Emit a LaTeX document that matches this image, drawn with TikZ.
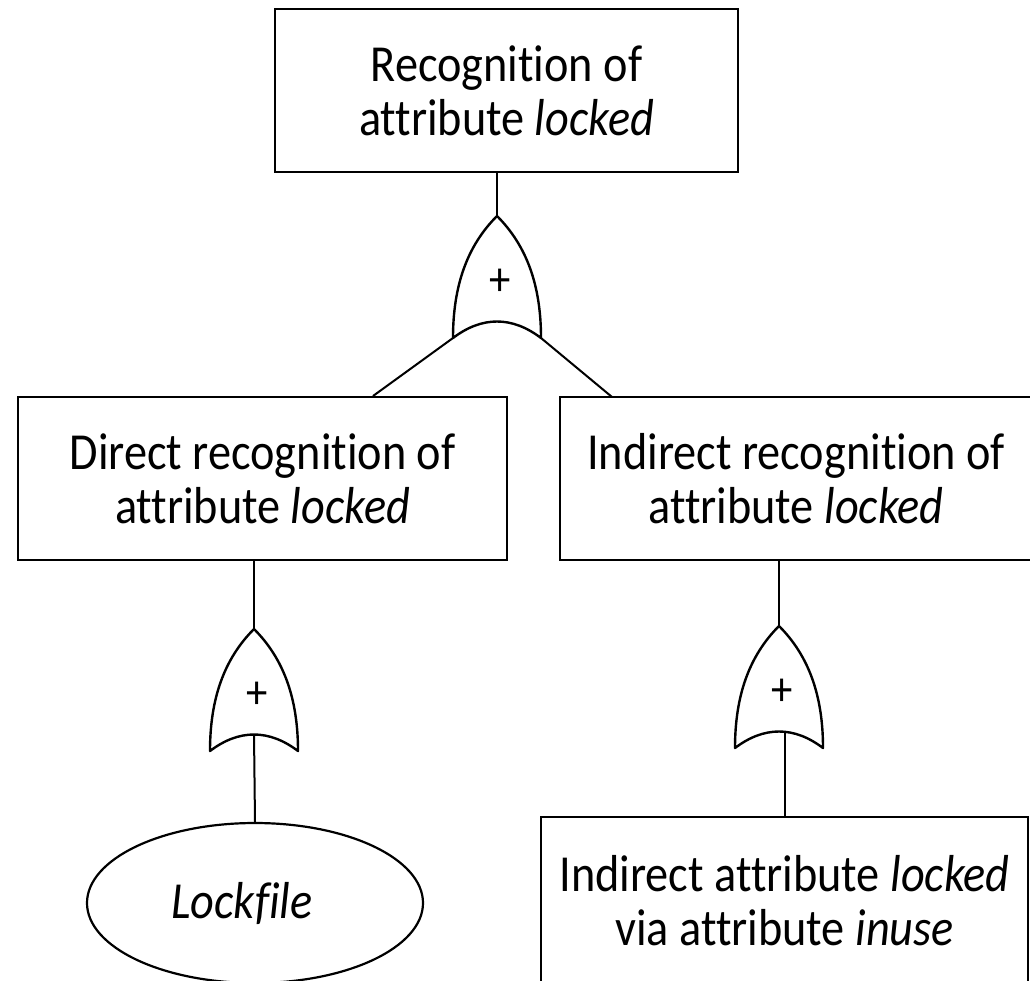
\documentclass[tikz,border=0pt]{standalone}
\usepackage{fontspec}
\setmainfont{Carlito}[Ligatures=NoCommon, FakeStretch=0.89]
\usetikzlibrary{shapes.geometric}
\tikzset{
  txtfont/.style={font=\fontsize{52}{54}\selectfont},
  boxnode/.style={draw, line width=2.2pt, rectangle, inner sep=0pt, align=center, txtfont},
  ovalnode/.style={draw, line width=2.2pt, ellipse, inner sep=0pt},
  wire/.style={line width=2pt},
  gateline/.style={line width=2.4pt, line join=round},
  plusnode/.style={inner sep=0pt, font=\fontsize{48}{54}\selectfont},
  orgate/.pic={
    \coordinate (-apex) at (0,0);
    \coordinate (-bl) at (-44,122);
    \coordinate (-br) at (44,122);
    \coordinate (-mid) at (0,105);
    \draw[gateline] (0,0) .. controls (-30,30) and (-44,70) .. (-44,122)
      .. controls (-15,100) and (15,100) .. (44,122)
      .. controls (44,70) and (30,30) .. (0,0) -- cycle;
    \node[plusnode] (-plus) at (3,66) {+};
  }
}
\begin{document}
\begin{tikzpicture}[x=1pt,y=-1pt]
\useasboundingbox (0,0) rectangle (1030,980);
% boxes
\node[boxnode, minimum width=463pt, minimum height=163pt] (top) at (506.5,90.5)
  {Recognition of\\attribute \textit{locked}};
\node[boxnode, minimum width=489pt, minimum height=163pt] (L) at (262.5,478.5)
  {Direct recognition of\\attribute \textit{locked}};
\node[boxnode, minimum width=472pt, minimum height=163pt] (R) at (796,478.5)
  {Indirect recognition of\\attribute \textit{locked}};
\node[boxnode, minimum width=487pt, minimum height=167pt] (B) at (784.5,900.5)
  {Indirect attribute \textit{locked}\\via attribute \textit{inuse}};
\node[ovalnode, minimum width=336pt, minimum height=160pt] (lock) at (255,903) {};
\node[inner sep=0pt, font={\fontsize{52}{54}\selectfont\itshape}] (locktext) at (242,903) {Lockfile};
% gates
\pic (g1) at (497,216) {orgate};
\pic (g2) at (254,629) {orgate};
\pic (g3) at (779,626) {orgate};
% free ends on box tops
\coordinate (Lin) at (373,396);
\coordinate (Rin) at (612,397);
% connectors
\draw[wire] (top.south -| g1-apex) -- (g1-apex);
\draw[wire] (g1-bl) -- (Lin);
\draw[wire] (g1-br) -- (Rin);
\draw[wire] (L.south -| g2-apex) -- (g2-apex);
\draw[wire] (g2-mid) -- (lock.north);
\draw[wire] (R.south -| g3-apex) -- (g3-apex);
\draw[wire] (g3-mid -| B.north) -- (B.north);
\end{tikzpicture}
\end{document}
